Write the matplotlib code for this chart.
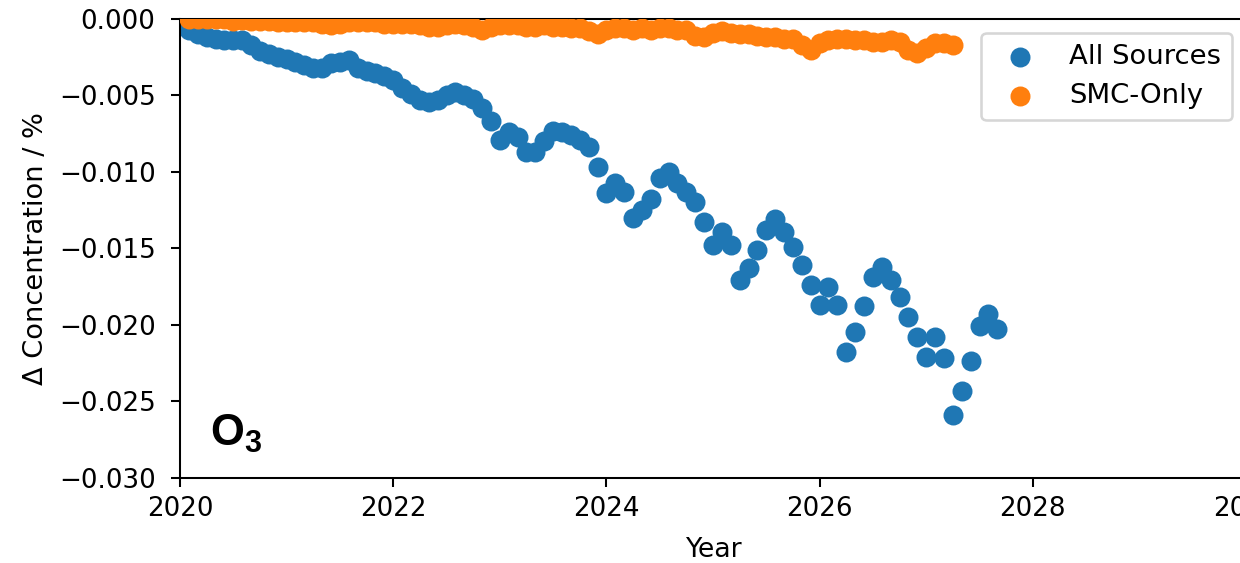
import matplotlib
matplotlib.use("Agg")
import matplotlib.pyplot as plt
import numpy as np

# Monthly data, month index counted from Jan 2020
all_months = list(range(1, 93))
all_sources = [
    -0.0007, -0.0010, -0.0012, -0.0013, -0.0014, -0.0014, -0.0014, -0.0017,
    -0.0021, -0.0023, -0.0025, -0.0026, -0.0028, -0.0030, -0.0032, -0.0032,
    -0.0029, -0.0028, -0.0027, -0.0032, -0.0034, -0.0035, -0.0037, -0.0040,
    -0.0045, -0.0049, -0.0053, -0.0054, -0.0053, -0.0050, -0.0048, -0.0050,
    -0.0052, -0.0058, -0.0067, -0.0079, -0.0074, -0.0077, -0.0087, -0.0087,
    -0.0080, -0.0073, -0.0074, -0.0076, -0.0079, -0.0084, -0.0097, -0.0114,
    -0.0107, -0.0113, -0.0130, -0.0125, -0.0118, -0.0104, -0.0100, -0.0107,
    -0.0113, -0.0120, -0.0133, -0.0148, -0.0139, -0.0148, -0.0171, -0.0163,
    -0.0151, -0.0138, -0.0131, -0.0139, -0.0149, -0.0161, -0.0174, -0.0187,
    -0.0175, -0.0187, -0.0218, -0.0205, -0.0188, -0.0169, -0.0162, -0.0171,
    -0.0182, -0.0195, -0.0208, -0.0221, -0.0208, -0.0222, -0.0259, -0.0243,
    -0.0224, -0.0201, -0.0193, -0.0203,
]

smc_months = list(range(1, 88))
smc_only = [
    0.0000, 0.0000, 0.0000, -0.00003, 0.0000, -0.0001, -0.00005, -0.0001,
    -0.0001, -0.0001, -0.0002, -0.0002, -0.0002, -0.0002, -0.0002, -0.0003,
    -0.0004, -0.0003, -0.0002, -0.0002, -0.0002, -0.0002, -0.0003, -0.0003,
    -0.0003, -0.0003, -0.0004, -0.0005, -0.0005, -0.0004, -0.0003, -0.0004,
    -0.0005, -0.0007, -0.0005, -0.0004, -0.0004, -0.0004, -0.0005, -0.0005,
    -0.0004, -0.0005, -0.0005, -0.0006, -0.0006, -0.0008, -0.0010, -0.0007,
    -0.0006, -0.0006, -0.0007, -0.0006, -0.0007, -0.0006, -0.0006, -0.0007,
    -0.0007, -0.0011, -0.0012, -0.0009, -0.0008, -0.0009, -0.0010, -0.0010,
    -0.0011, -0.0012, -0.0012, -0.0013, -0.0013, -0.0017, -0.0020, -0.0016,
    -0.0014, -0.0013, -0.0013, -0.0014, -0.0014, -0.0015, -0.0015, -0.0014,
    -0.0015, -0.0020, -0.0022, -0.0019, -0.0016, -0.0016, -0.0017,
]

x_ticks = [2020, 2022, 2024, 2026, 2028, 2030]
y_ticks = [0.000, -0.005, -0.010, -0.015, -0.020, -0.025, -0.030]

x_all = 2020 + np.array(all_months) / 12.0
x_smc = 2020 + np.array(smc_months) / 12.0

plt.rcParams["mathtext.fontset"] = "custom"
plt.rcParams["mathtext.bf"] = "Liberation Sans:bold"
plt.rcParams["mathtext.rm"] = "Liberation Sans"

DPI = 185
fig = plt.figure(figsize=(1240 / DPI, 563 / DPI), dpi=DPI)
ax = fig.add_axes([180 / 1240, (563 - 477.7) / 563, 1066 / 1240, 458.7 / 563])

ax.scatter(x_all, all_sources, s=46, color="#1f77b4", label="All Sources", zorder=2)
ax.scatter(x_smc, smc_only, s=46, color="#ff7f0e", label="SMC-Only", zorder=3)

ax.set_xlim(2020, 2030)
ax.set_ylim(-0.030, 0.000)
ax.set_xticks(x_ticks)
ax.set_yticks(y_ticks)
ax.set_yticklabels([f"{v:.3f}".replace("-", "\u2212") for v in y_ticks])
ax.tick_params(axis="y", pad=6, labelsize=10.2)
ax.tick_params(axis="x", labelsize=10.2)
ax.set_xlabel("Year", fontsize=10.4, labelpad=6)
ax.set_ylabel("\u0394 Concentration / %", fontsize=10.6)

ax.text(0.028, 0.07, r"$\mathbf{O_3}$", transform=ax.transAxes, fontsize=17,
        ha="left", va="baseline")

ax.legend(loc="upper right", fontsize=10.7)

fig.savefig("out.png", dpi=DPI)
